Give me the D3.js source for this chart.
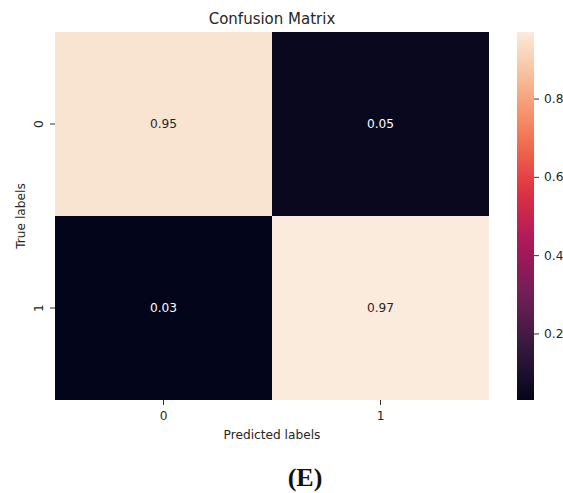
<!DOCTYPE html>
<html><head><meta charset="utf-8">
<script src="https://cdn.jsdelivr.net/npm/d3@7"></script>
<style>body{margin:0;background:#fff}svg{display:block}</style>
</head><body>
<svg id="c" width="563" height="493"></svg>
<script>
const rowLabels = ["0","1"];
const colLabels = ["0","1"];
const values = [[0.95,0.05],[0.03,0.97]];
const cbarTicks = [0.2,0.4,0.6,0.8];
const title = "Confusion Matrix";
const xTitle = "Predicted labels";
const yTitle = "True labels";
const caption = "(E)";

const rocketStops = ["#03051a","#35193e","#701f57","#ad1759","#e13342","#f37651","#f6b48f","#faebdd"];
const rocketPos = [0,1/7,2/7,3/7,4/7,5/7,6/7,1];
const rocket = d3.scaleLinear().domain(rocketPos).range(rocketStops).interpolate(d3.interpolateRgb);

const svg = d3.select("#c");
const font = "DejaVu Sans, sans-serif";
const fs = 12.2;
const L=55, R=489, T=32, B=400;
const flat = values.flat();
const vmin = d3.min(flat), vmax = d3.max(flat);
const color = v => rocket((v - vmin)/(vmax - vmin));

const x = d3.scaleBand().domain(colLabels).range([L,R]);
const y = d3.scaleBand().domain(rowLabels).range([T,B]);

const cells = [];
rowLabels.forEach((r,i)=>colLabels.forEach((c,j)=>cells.push({r,c,v:values[i][j]})));
svg.selectAll("rect.cell").data(cells).enter().append("rect")
  .attr("x",d=>x(d.c)).attr("y",d=>y(d.r)).attr("width",x.bandwidth()).attr("height",y.bandwidth())
  .attr("fill",d=>color(d.v)).attr("shape-rendering","crispEdges");
svg.selectAll("text.val").data(cells).enter().append("text")
  .attr("x",d=>x(d.c)+x.bandwidth()/2).attr("y",d=>y(d.r)+y.bandwidth()/2)
  .attr("text-anchor","middle").attr("dominant-baseline","central")
  .attr("font-family",font).attr("font-size",fs)
  .attr("fill",d=>((d.v-vmin)/(vmax-vmin))>0.5?"#262626":"#ffffff")
  .text(d=>d.v.toFixed(2));

// axes
const xAxis = svg.append("g").attr("transform",`translate(0,${B})`).call(d3.axisBottom(x).tickSize(5).tickPadding(6));
const yAxis = svg.append("g").attr("transform",`translate(${L},0)`).call(d3.axisLeft(y).tickSize(5).tickPadding(4));
[xAxis,yAxis].forEach(a=>{a.select(".domain").remove();a.selectAll("line").attr("stroke","#333");
  a.selectAll("text").attr("font-family",font).attr("font-size",fs).attr("fill","#262626");});
yAxis.selectAll(".tick text").attr("x",0).attr("y",0)
  .attr("dx",null).attr("dy",null)
  .attr("text-anchor","middle").attr("dominant-baseline","auto")
  .attr("transform","translate(-12,0) rotate(-90)");

svg.append("text").attr("x",(L+R)/2).attr("y",24).attr("text-anchor","middle")
  .attr("font-family",font).attr("font-size",15).attr("fill","#262626").text(title);
svg.append("text").attr("x",(L+R)/2).attr("y",439).attr("text-anchor","middle")
  .attr("font-family",font).attr("font-size",fs).attr("fill","#262626").text(xTitle);
svg.append("text").attr("transform",`translate(25,${(T+B)/2}) rotate(-90)`).attr("text-anchor","middle")
  .attr("font-family",font).attr("font-size",fs).attr("fill","#262626").text(yTitle);
svg.append("text").attr("x",305).attr("y",486).attr("text-anchor","middle")
  .attr("font-family","Liberation Serif, DejaVu Serif, serif").attr("font-weight","bold").attr("font-size",26).attr("fill","#111").text(caption);

// colorbar
const cbX=517, cbW=17;
const defs = svg.append("defs");
const grad = defs.append("linearGradient").attr("id","g").attr("x1",0).attr("y1",1).attr("x2",0).attr("y2",0);
d3.range(0,1.0001,0.05).forEach(t=>grad.append("stop").attr("offset",t).attr("stop-color",rocket(t)));
svg.append("rect").attr("x",cbX).attr("y",T).attr("width",cbW).attr("height",B-T).attr("fill","url(#g)");
const cy = d3.scaleLinear().domain([vmin,vmax]).range([B,T]);
const cAxis = svg.append("g").attr("transform",`translate(${cbX+cbW},0)`).call(d3.axisRight(cy).tickValues(cbarTicks).tickFormat(d3.format(".1f")).tickSize(5).tickPadding(5));
cAxis.select(".domain").remove();
cAxis.selectAll("line").attr("stroke","#333");
cAxis.selectAll("text").attr("font-family",font).attr("font-size",fs).attr("fill","#262626");
</script>
</body></html>
